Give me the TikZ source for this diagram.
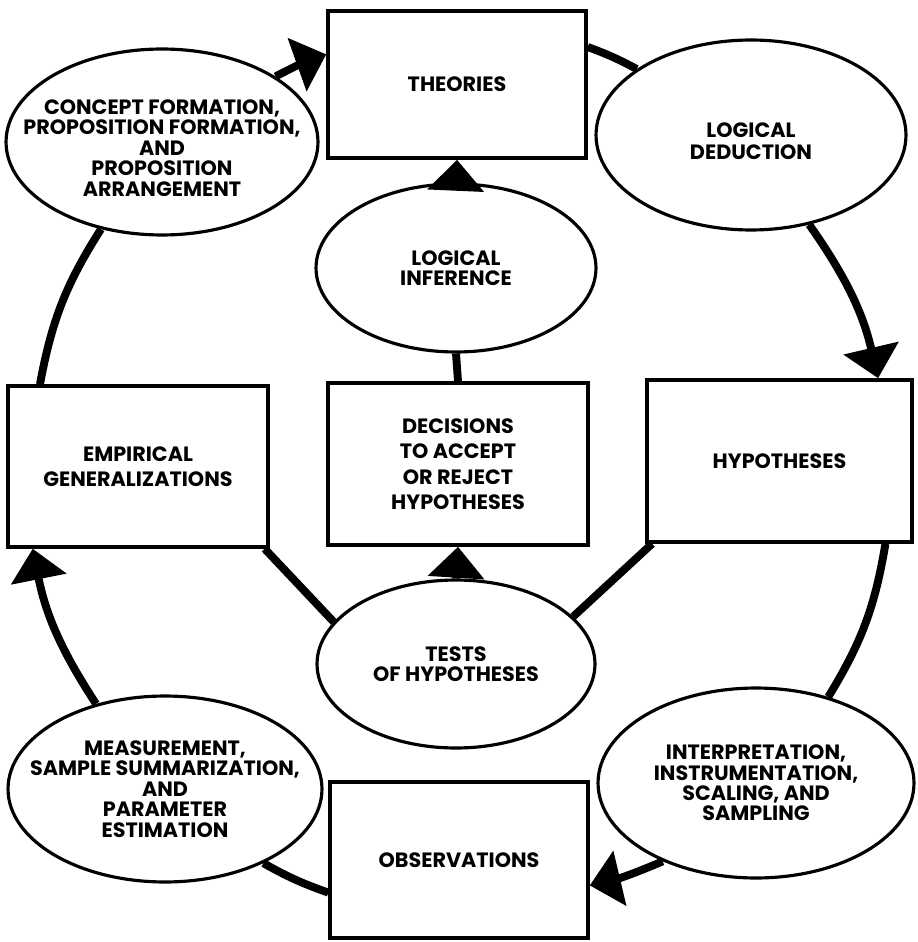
\documentclass[tikz,border=0pt]{standalone}
\usepackage{fontspec}
\setmainfont{Poppins}
\usetikzlibrary{shapes.geometric,arrows.meta}
\begin{document}
\begin{tikzpicture}[x=0.02cm,y=-0.02cm,
  box/.style={draw, line width=2pt, rectangle, inner sep=0pt},
  oval/.style={draw, line width=1.8pt, ellipse, inner sep=0pt},
  lbl/.style={font=\bfseries\fontsize{11.8}{11.6}\selectfont, align=center, inner sep=0pt},
  widelbl/.style={lbl, font=\bfseries\fontsize{11.8}{14.5}\selectfont},
  link/.style={line width=4.5pt},
  tip/.style={-{Triangle[width=1.1cm,length=0.62cm]}}]
\useasboundingbox (0,0) rectangle (917,942);
\fill[white] (0,0) rectangle (917,942);

% boxes
\node[box, minimum width=5.16cm, minimum height=2.94cm] (theo) at (457,84.5) {};
\node[box, minimum width=5.2cm, minimum height=3.24cm] (dec) at (458,464) {};
\node[box, minimum width=5.2cm, minimum height=3.22cm] (emp) at (138,466.5) {};
\node[box, minimum width=5.3cm, minimum height=3.24cm] (hyp) at (779.5,461) {};
\node[box, minimum width=5.16cm, minimum height=3.12cm] (obs) at (459,860) {};

% ovals
\node[oval, minimum width=6.24cm, minimum height=3.72cm] (concept) at (162,142) {};
\node[oval, minimum width=6.2cm, minimum height=3.8cm] (ded) at (751,135) {};
\node[oval, minimum width=5.6cm, minimum height=3.36cm] (inf) at (456,268) {};
\node[oval, minimum width=5.56cm, minimum height=3.36cm] (tests) at (456,664) {};
\node[oval, minimum width=6.32cm, minimum height=3.8cm] (interp) at (756,783) {};
\node[oval, minimum width=6.28cm, minimum height=3.72cm] (meas) at (165,789) {};

% labels
\node[lbl] (theo-t) at (theo) {THEORIES};
\node[widelbl] (dec-t) at (dec) {DECISIONS\\TO ACCEPT\\OR REJECT\\HYPOTHESES};
\node[widelbl] (emp-t) at (emp) {EMPIRICAL\\GENERALIZATIONS};
\node[lbl] (hyp-t) at (hyp) {HYPOTHESES};
\node[lbl] (obs-t) at (obs) {OBSERVATIONS};
\node[lbl] (concept-t) at (162,148) {CONCEPT FORMATION,\\PROPOSITION FORMATION,\\AND\\PROPOSITION\\ARRANGEMENT};
\node[lbl, font=\bfseries\fontsize{11.8}{12.5}\selectfont] (ded-t) at (751,141) {LOGICAL\\DEDUCTION};
\node[lbl] (inf-t) at (inf) {LOGICAL\\INFERENCE};
\node[lbl] (tests-t) at (tests) {TESTS\\OF HYPOTHESES};
\node[lbl] (interp-t) at (interp) {INTERPRETATION,\\INSTRUMENTATION,\\SCALING, AND\\SAMPLING};
\node[lbl] (meas-t) at (meas) {MEASUREMENT,\\SAMPLE SUMMARIZATION,\\AND\\PARAMETER\\ESTIMATION};

% outer cycle
\draw[link,tip] (concept.30) to[bend left=4] (theo.167);
\draw[link] (theo.16) to[bend left=4] (ded.150);
\draw[link,tip] (ded.-57) to[bend left=11] (hyp.40);
\draw[link] (hyp.-38.6) to[bend left=11] (interp.50);
\draw[link,tip] (interp.-140) to[bend left=5] (obs.-11);
\draw[link] (obs.-166) to[bend left=5] (meas.-37);
\draw[link,tip] (meas.129) to[bend left=11] (emp.-142.5);
\draw[link] (emp.140) to[bend left=11] (concept.-125);

% inner spine
\draw[link] (emp.-33) -- (tests.161);
\draw[link] (hyp.-147.5) -- (tests.22);
\draw[link,tip] (tests.north) -- (dec.south);
\draw[link] (dec.north) -- (inf.south);
\draw[link,tip] (inf.north) -- (theo.south);
\end{tikzpicture}
\end{document}
